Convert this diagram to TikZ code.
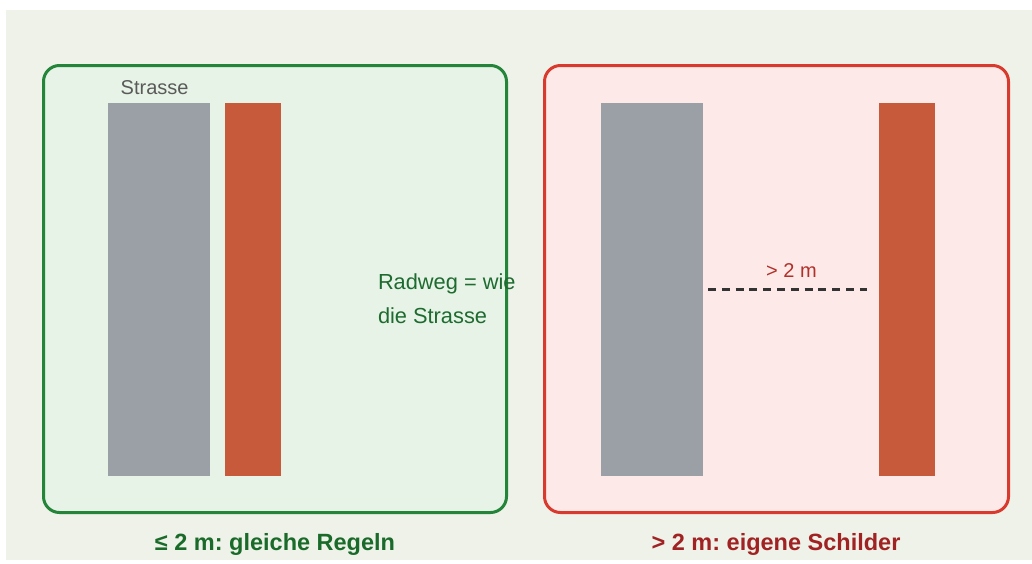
\documentclass[tikz,border=0pt]{standalone}
\usepackage{fontspec}
\setmainfont{Liberation Sans}
\frenchspacing
\definecolor{bgc}{HTML}{EEF2E9}
\definecolor{gfill}{HTML}{E6F3E6}
\definecolor{gline}{HTML}{23843A}
\definecolor{rfill}{HTML}{FDEAE8}
\definecolor{rline}{HTML}{D93A2E}
\definecolor{roadc}{HTML}{9AA0A6}
\definecolor{bikec}{HTML}{C65A3A}
\definecolor{gtext}{HTML}{1E6B30}
\definecolor{rtext}{HTML}{B0302A}
\definecolor{gbold}{HTML}{1A6A2A}
\definecolor{rbold}{HTML}{A02222}
\definecolor{labgray}{HTML}{5A5A5A}
\definecolor{dashc}{HTML}{333333}
\tikzset{
  panel/.style={rounded corners=16pt, line width=3pt},
  road/.style={fill=roadc, draw=none, inner sep=0pt, minimum width=102pt, minimum height=372.4pt},
  bike/.style={fill=bikec, draw=none, inner sep=0pt, minimum width=55.6pt, minimum height=372.4pt},
  lbl/.style={inner sep=0pt, outer sep=0pt},
  caption/.style={lbl, font=\fontsize{23.5}{28}\selectfont\bfseries, anchor=base},
  gap/.style={line width=3pt, draw=dashc, dash pattern=on 8pt off 5.8pt}
}
\begin{document}
\begin{tikzpicture}[x=1pt,y=-1pt]
\useasboundingbox (0,0) rectangle (1032,563);
\fill[white] (0,0) rectangle (1032,563);
\fill[bgc] (6,10) rectangle (1032,560);
% panels
\draw[panel, draw=gline, fill=gfill] (43.5,65.5) rectangle (506.5,512.5);
\draw[panel, draw=rline, fill=rfill] (544.5,65.5) rectangle (1008.5,512.5);
% left panel
\node[road] (lroad) at (159.2,289.5) {};
\node[bike] (lbike) at (253,289.5) {};
\node[lbl, anchor=base west, text=labgray, font=\fontsize{20}{24}\selectfont] (strasse) at (120.7,94) {Strasse};
\node[lbl, anchor=base west, text=gtext, font=\fontsize{21.8}{34}\selectfont] (radweg1) at (378,289) {Radweg = wie};
\node[lbl, anchor=base west, text=gtext, font=\fontsize{21.8}{34}\selectfont] (radweg2) at (378,323) {die Strasse};
% right panel
\node[road] (rroad) at (651.5,289.5) {};
\node[bike] (rbike) at (906.7,289.5) {};
\coordinate (d1) at (708,289);
\coordinate (d2) at (867,289);
\draw[gap] (d1) -- (d2);
\node[lbl, anchor=base, text=rtext, font=\fontsize{20}{24}\selectfont] (dist) at (791.5,277) {> 2 m};
% captions
\node[caption, text=gbold] (capl) at (275,550.5) {≤ 2 m: gleiche Regeln};
\node[caption, text=rbold] (capr) at (776,550.5) {> 2 m: eigene Schilder};
\end{tikzpicture}
\end{document}
